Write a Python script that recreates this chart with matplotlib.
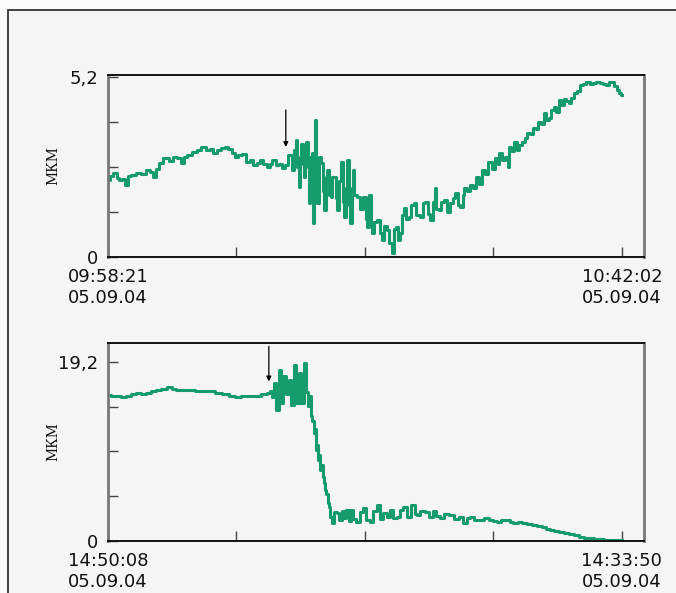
import matplotlib.pyplot as plt
from matplotlib.patches import Rectangle

# recording position, % of the record (0 = first label, 100 = last label)
t_top = [0.0, 0.7, 1.4, 2.0, 2.4, 3.0, 3.6, 4.0, 5.0, 5.9, 6.8, 7.9, 8.6, 9.1, 9.6,
         10.1, 11.4, 12.2, 13.0, 13.8, 14.6, 15.0, 15.6, 16.9, 17.8, 18.5, 19.5, 20.2,
         20.8, 21.5, 22.4, 23.1, 23.7, 24.4, 25.0, 25.7, 26.3, 27.3, 28.0, 28.6, 29.3,
         29.9, 30.6, 31.2, 31.7, 32.2, 33.1, 33.6, 34.1, 34.8, 35.4, 36.1, 36.4, 36.7,
         37.0, 37.2, 37.5, 37.7, 38.0, 38.3, 38.5, 38.7, 39.0, 39.3, 39.5, 39.75, 39.9,
         40.1, 40.3, 40.6, 40.9, 41.2, 41.6, 41.9, 42.2, 42.5, 42.9, 43.2, 43.5, 43.8,
         44.2, 44.5, 44.8, 45.1, 45.5, 45.8, 46.1, 46.4, 46.8, 47.0, 47.3, 47.5, 47.7,
         48.2, 48.7, 49.3, 50.0, 50.3, 50.6, 51.0, 51.3, 51.6, 52.1, 52.6, 53.1, 53.6,
         54.0, 54.5, 55.0, 55.5, 55.8, 56.2, 56.6, 57.1, 57.5, 57.8, 58.3, 58.8, 59.2,
         59.7, 60.3, 61.0, 61.5, 62.0, 62.5, 63.0, 63.4, 63.7, 64.1, 64.6, 65.1, 65.6,
         66.2, 66.9, 67.3, 67.8, 68.3, 68.8, 69.2, 69.5, 70.1, 70.8, 71.4, 72.0, 72.5,
         73.0, 73.6, 74.3, 75.0, 75.6, 76.0, 76.3, 77.0, 77.6, 77.9, 78.2, 78.7, 79.2,
         79.8, 80.3, 80.8, 81.3, 81.8, 82.4, 83.1, 83.5, 84.0, 84.5, 85.0, 85.5, 86.0,
         86.5, 87.0, 87.5, 87.9, 88.4, 88.9, 89.4, 89.9, 90.4, 90.9, 91.5, 92.2, 92.8,
         93.4, 94.0, 94.7, 95.3, 96.0, 96.6, 97.3, 97.8, 98.3, 98.8, 99.3, 99.7, 100.1]
d_top = [2.22, 2.35, 2.42, 2.28, 2.22, 2.25, 2.08, 2.34, 2.38, 2.43, 2.40, 2.51, 2.45, 2.32, 2.55,
         2.71, 2.85, 2.78, 2.90, 2.85, 2.71, 2.88, 2.95, 3.04, 3.10, 3.19, 3.09, 3.12,
         3.00, 3.08, 3.14, 3.18, 3.11, 3.02, 2.90, 2.96, 2.98, 2.75, 2.80, 2.66, 2.72,
         2.80, 2.70, 2.61, 2.70, 2.80, 2.66, 2.70, 2.56, 2.66, 2.95, 2.50, 3.10, 3.38,
         2.60, 2.03, 2.90, 3.28, 2.70, 2.32, 3.00, 3.33, 2.60, 1.55, 2.90, 3.00, 0.97,
         2.40, 3.96, 2.60, 1.55, 2.90, 2.71, 1.90, 1.36, 2.30, 2.51, 1.80, 1.74, 2.30,
         2.32, 1.70, 1.36, 2.20, 2.75, 1.60, 1.17, 2.00, 2.80, 1.50, 0.97, 2.00, 2.51,
         1.80, 1.74, 1.40, 1.74, 1.10, 0.88, 1.79, 1.00, 0.68, 1.00, 1.07, 0.70, 0.49,
         0.90, 0.78, 0.40, 0.11, 0.80, 0.88, 0.50, 0.68, 1.20, 1.41, 1.10, 1.17, 1.50,
         1.55, 1.20, 1.17, 1.55, 1.60, 1.25, 1.07, 1.60, 1.98, 1.40, 1.36, 1.60, 1.65,
         1.30, 1.55, 1.70, 1.84, 1.50, 1.45, 1.80, 1.98, 1.90, 2.08, 2.00, 2.32, 2.10,
         2.51, 2.40, 2.75, 2.55, 2.85, 2.70, 3.00, 2.80, 2.90, 2.60, 3.19, 3.05, 3.33,
         3.09, 3.25, 3.33, 3.45, 3.57, 3.55, 3.72, 3.70, 3.91, 3.85, 4.15, 3.95, 4.01,
         4.25, 4.34, 4.20, 4.54, 4.40, 4.58, 4.50, 4.44, 4.60, 4.73, 4.80, 4.97, 5.00,
         5.07, 5.00, 5.02, 5.05, 5.04, 5.00, 4.97, 5.05, 5.07, 4.95, 4.82, 4.75, 4.68]

t_bot = [0.0, 1.0, 2.0, 3.0, 3.9, 5.0, 5.9, 7.0, 7.9, 9.0, 9.8, 11.0, 12.1, 12.8, 13.7,
         15.0, 16.3, 17.5, 18.9, 20.0, 21.5, 23.0, 24.1, 25.4, 26.5, 27.95, 29.0, 30.5,
         31.2, 31.8, 32.1, 32.5, 33.0, 33.5, 33.9, 34.4, 34.95, 35.4, 35.9, 36.4, 36.9,
         37.35, 37.8, 38.3, 38.8, 39.1, 39.4, 39.6, 39.9, 40.1, 40.4, 40.6, 40.8, 41.05,
         41.2, 41.4, 41.6, 41.9, 42.1, 42.3, 42.6, 42.9, 43.1, 43.4, 43.8, 44.2, 44.8,
         45.2, 45.7, 46.1, 46.6, 47.0, 47.4, 48.0, 48.7, 49.3, 50.0, 50.6, 51.3, 52.0,
         52.6, 53.3, 53.9, 54.5, 55.2, 55.8, 56.5, 57.2, 57.8, 58.5, 59.4, 59.9, 60.4,
         61.2, 62.0, 62.8, 63.6, 64.2, 64.9, 65.8, 66.9, 67.8, 68.8, 69.5, 70.2, 70.8,
         71.8, 72.7, 73.6, 74.6, 75.3, 75.9, 76.9, 77.9, 78.6, 79.2, 80.2, 81.1, 82.1,
         83.1, 84.0, 85.0, 85.6, 86.3, 87.3, 88.3, 89.2, 90.2, 91.2, 92.2, 93.2, 94.1,
         95.1, 96.1, 97.0, 98.0, 99.0, 100.0]
d_bot = [15.66, 15.55, 15.48, 15.45, 15.55, 15.70, 15.84, 15.75, 15.90, 16.05, 16.20, 16.25,
         16.45, 16.30, 16.12, 16.15, 16.12, 16.10, 16.02, 16.05, 15.84, 15.70, 15.55, 15.41,
         15.50, 15.48, 15.55, 15.73, 15.80, 16.02, 15.40, 16.91, 14.05, 18.34, 14.77, 17.63,
         15.70, 17.27, 14.60, 18.88, 14.77, 17.98, 14.77, 19.06, 16.00, 14.41, 15.50, 13.34,
         12.80, 11.55, 12.00, 9.76, 10.30, 8.69, 9.20, 7.62, 8.10, 6.90, 6.20, 5.47, 5.00,
         4.04, 3.60, 2.61, 1.90, 3.10, 2.97, 2.20, 3.20, 2.50, 3.30, 2.10, 3.33, 2.40,
         2.07, 3.10, 3.50, 2.20, 2.07, 3.20, 3.86, 2.40, 2.97, 2.60, 3.33, 2.50, 2.61,
         3.30, 3.68, 2.60, 3.86, 2.90, 2.79, 3.20, 3.15, 2.60, 3.22, 2.70, 2.43, 2.90,
         2.79, 2.40, 2.61, 1.90, 2.50, 2.61, 2.30, 2.25, 2.45, 2.25, 2.10, 2.07, 2.20,
         2.25, 2.00, 1.90, 2.05, 1.90, 1.80, 1.72, 1.65, 1.54, 1.30, 1.18, 1.10, 1.00,
         0.85, 0.75, 0.60, 0.46, 0.35, 0.29, 0.22, 0.18, 0.12, 0.11, 0.10, 0.11]

x_ticks = [0, 25, 50, 75, 100]
labels_top = ["09:58:21\n05.09.04", "10:42:02\n05.09.04"]
labels_bot = ["14:50:08\n05.09.04", "14:33:50\n05.09.04"]
ymax_top, ymax_bot = 5.2, 19.2
arrow_top = (34.6, 4.25, 3.18)   # x, tail y, head y
arrow_bot = (31.3, 20.84, 17.09)

green = '#169c6c'
bg = '#f5f5f5'

fig = plt.figure(figsize=(6.76, 5.93), dpi=100, facecolor='#fbfbfb')
fig.patches.append(Rectangle((8 / 676, -0.1), 1.1, 1 - 10 / 593 + 0.1,
                             transform=fig.transFigure, facecolor=bg,
                             edgecolor='#333333', lw=1.3, zorder=-5))


def panel(rect, t, d, ymax, ytop, labels, arrow):
    ax = fig.add_axes(rect)
    ax.set_facecolor(bg)
    ax.plot(t, d, color=green, lw=2.2, drawstyle='steps-mid')
    ax.set_xlim(0, 104.3)
    ax.set_ylim(0, ytop)
    ax.set_xticks(x_ticks)
    ax.set_xticklabels([labels[0], '', '', '', labels[1]])
    ax.set_yticks([0, ymax / 4, ymax / 2, 3 * ymax / 4, ymax])
    ax.set_yticklabels(['0', '', '', '', f"{ymax:g}".replace('.', ',')])
    ax.tick_params(direction='in', length=7, width=1, color='#444444',
                   labelsize=13, labelcolor='#111111')
    ax.tick_params(axis='x', pad=8)
    ax.tick_params(axis='y', pad=7)
    for s in ('left', 'right'):
        ax.spines[s].set_color('#777777')
        ax.spines[s].set_linewidth(2)
    for s in ('top', 'bottom'):
        ax.spines[s].set_color('#111111')
        ax.spines[s].set_linewidth(1.4)
    ax.annotate('', xy=(arrow[0], arrow[2]), xytext=(arrow[0], arrow[1]),
                arrowprops=dict(arrowstyle='-|>', color='black', lw=0.9,
                                mutation_scale=7, shrinkA=0, shrinkB=0))
    # unit label, placed in figure pixels left of the tick labels
    cy = rect[1] + rect[3] / 2
    fig.text(53 / 676, cy, 'МКМ', family='DejaVu Serif', fontsize=10,
             rotation=90, ha='center', va='center', color='#111111')
    return ax


panel([108 / 676, 1 - 257 / 593, 536 / 676, 182 / 593], t_top, d_top,
      ymax_top, 5.26, labels_top, arrow_top)
panel([108 / 676, 1 - 541 / 593, 536 / 676, 198 / 593], t_bot, d_bot,
      ymax_bot, 21.2, labels_bot, arrow_bot)

fig.savefig('out.png', dpi=100, facecolor=fig.get_facecolor())
